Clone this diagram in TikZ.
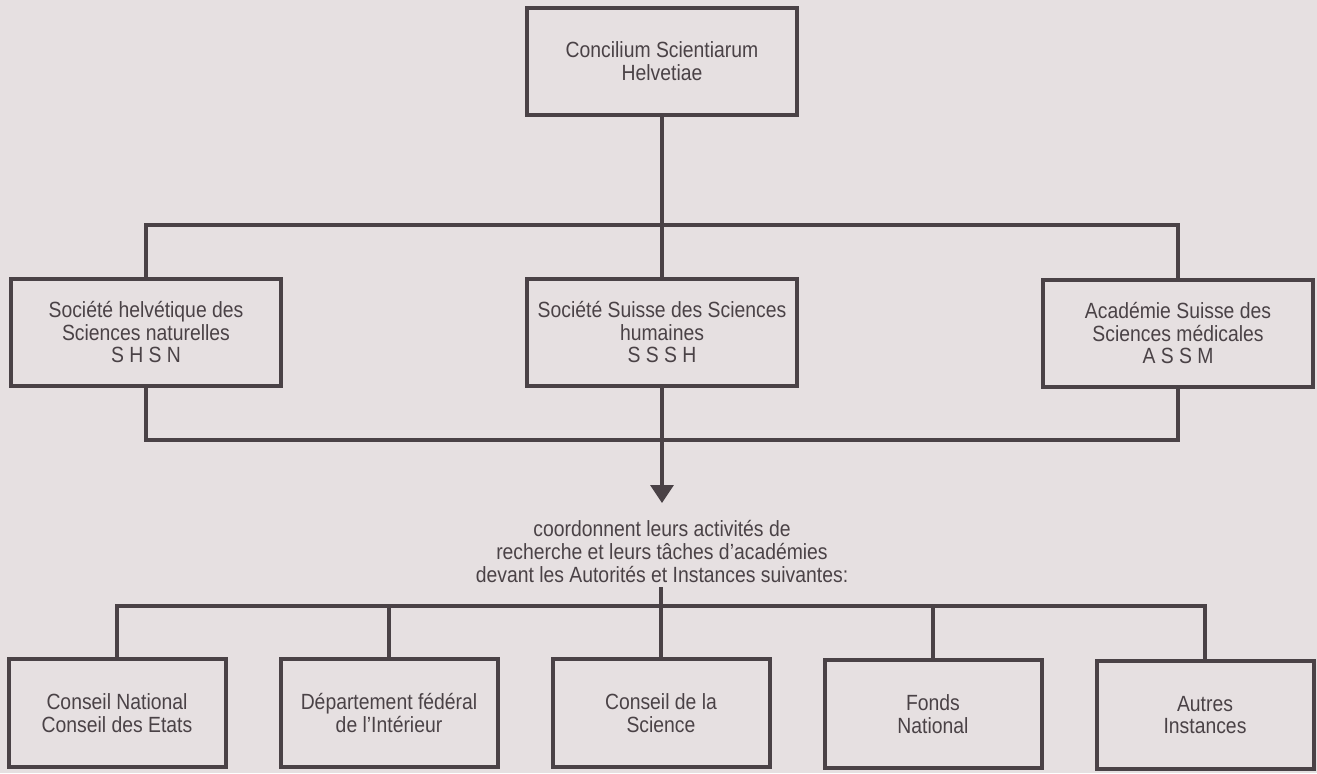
\documentclass[tikz,border=0pt]{standalone}
\usepackage{fontspec}
\setmainfont{Liberation Sans}[FakeStretch=0.88]
\usetikzlibrary{arrows.meta}
\definecolor{bgc}{HTML}{E6E0E1}
\definecolor{ink}{HTML}{4A4246}
\tikzset{
  box/.style={draw=ink, line width=2pt, fill=none, align=center, text=ink,
    font=\fontsize{11}{11.3}\selectfont, inner sep=0pt},
  bigbox/.style={box, minimum width=135pt, minimum height=53.5pt},
  lowbox/.style={box, minimum width=108.5pt, minimum height=54pt},
  conn/.style={draw=ink, line width=1.6pt},
}
\begin{document}
\begin{tikzpicture}[x=0.5pt, y=-0.5pt]
\fill[bgc] (0,0) rectangle (1317,773);
\useasboundingbox (0,0) rectangle (1317,773);

% top
\node[bigbox] (csh) at (662,61) {Concilium Scientiarum\\Helvetiae};

% middle
\node[bigbox] (shsn) at (146,332) {Société helvétique des\\Sciences naturelles\\S H S N};
\node[bigbox] (sssh) at (662,332) {Société Suisse des Sciences\\humaines\\S S S H};
\node[bigbox] (assm) at (1178,333) {Académie Suisse des\\Sciences médicales\\A S S M};

\coordinate (t1) at (146,225);
\coordinate (t3) at (1178,225);
\coordinate (u1) at (146,440);
\coordinate (u3) at (1178,440);
\coordinate (tip) at (662,503);

\draw[conn] (csh.south) -- (sssh.north);
\draw[conn] (shsn.north) -- (t1) -- (t3) -- (assm.north);
\draw[conn] (shsn.south) -- (u1) -- (u3) -- (assm.south);
\draw[conn, -{Triangle[width=11.5pt,length=9pt]}] (sssh.south) -- (tip);

% text
\node[text=ink, align=center, font=\fontsize{11}{11.5}\selectfont, inner sep=0pt]
  (txt) at (662,551) {coordonnent leurs activités de\\recherche et leurs tâches d’académies\\devant les Autorités et Instances suivantes:};

% bottom
\node[lowbox] (n1) at (117,713) {Conseil National\\Conseil des Etats};
\node[lowbox] (n2) at (389,713) {Département fédéral\\de l’Intérieur};
\node[lowbox] (n3) at (661,713) {Conseil de la\\Science};
\node[lowbox] (n4) at (933,714) {Fonds\\National};
\node[lowbox] (n5) at (1205,715) {Autres\\Instances};

\coordinate (v) at (661,587);
\coordinate (c1) at (117,606);
\coordinate (c5) at (1205,606);
\coordinate (cm) at (661,606);
\draw[conn] (v) -- (cm);
\draw[conn] (n1.north) -- (c1) -- (c5) -- (n5.north);
\draw[conn] (n2.north) -- (n2.north |- cm);
\draw[conn] (n3.north) -- (n3.north |- cm);
\draw[conn] (n4.north) -- (n4.north |- cm);
\end{tikzpicture}
\end{document}
